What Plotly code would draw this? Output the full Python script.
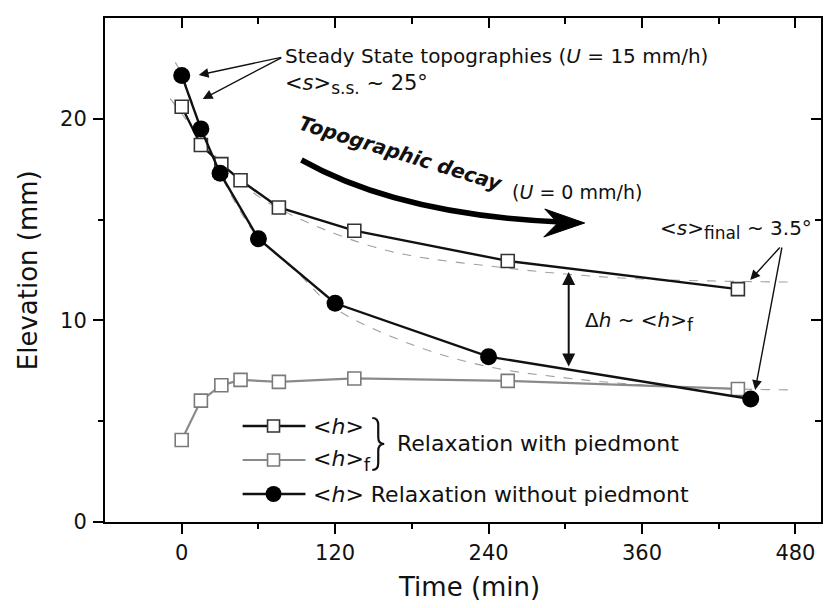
import plotly.graph_objects as go

# ---------------- data ----------------
t_nopied = [0, 15, 30, 60, 120, 240, 445]
h_nopied = [22.15, 19.5, 17.3, 14.05, 10.85, 8.2, 6.1]

t_pied = [0, 15, 31, 46, 76, 135, 255, 435]
h_pied = [20.6, 18.7, 17.75, 16.95, 15.6, 14.45, 12.95, 11.55]
hf_pied = [4.07, 6.02, 6.78, 7.05, 6.95, 7.12, 7.0, 6.6]

# dashed fit curves
t_fit_up = [-9, 0, 15, 30, 45, 60, 90, 120, 150, 180, 240, 300, 360, 420, 480]
h_fit_up = [21.0, 20.25, 19.0, 17.9, 16.95, 16.15, 15.1, 14.3, 13.65, 13.2, 12.7, 12.3, 12.05, 11.95, 11.9]
t_fit_lo = [-5, 0, 15, 30, 45, 60, 90, 120, 180, 240, 300, 360, 420, 480]
h_fit_lo = [22.8, 22.2, 19.6, 17.3, 15.5, 14.1, 12.4, 10.6, 8.8, 7.7, 7.15, 6.8, 6.62, 6.55]

x_ticks = [0, 120, 240, 360, 480]
y_ticks = [0, 10, 20]

FONT = "DejaVu Sans, Liberation Sans, sans-serif"
W, H = 829, 608
L, R, T, B = 105, 6, 18, 86
PW, PH = W - L - R, H - T - B


def px(x):
    return (x - L) / PW


def py(y):
    return (H - B - y) / PH


def sub(s, size):
    return f"<sub><span style='font-size:{size}px'>{s}</span></sub>"


fig = go.Figure()

fig.add_trace(go.Scatter(x=t_fit_up, y=h_fit_up, mode="lines", line=dict(color="#a0a0a0", width=1.1, dash="dash", shape="spline"), hoverinfo="skip"))
fig.add_trace(go.Scatter(x=t_fit_lo, y=h_fit_lo, mode="lines", line=dict(color="#a0a0a0", width=1.1, dash="dash", shape="spline"), hoverinfo="skip"))

fig.add_trace(go.Scatter(x=t_pied, y=hf_pied, mode="lines+markers",
                         line=dict(color="#8a8a8a", width=2.2),
                         marker=dict(symbol="square", size=13, color="white", line=dict(color="#7a7a7a", width=1.6))))
fig.add_trace(go.Scatter(x=t_pied, y=h_pied, mode="lines+markers",
                         line=dict(color="#111111", width=2.4),
                         marker=dict(symbol="square", size=13, color="white", line=dict(color="#333333", width=1.6))))
fig.add_trace(go.Scatter(x=t_nopied, y=h_nopied, mode="lines+markers",
                         line=dict(color="#111111", width=2.4),
                         marker=dict(symbol="circle", size=17, color="black", line=dict(color="black", width=0))))

# dummy trace for mirrored inside ticks
fig.add_trace(go.Scatter(x=[None], y=[None], xaxis="x2", yaxis="y2", showlegend=False, hoverinfo="skip"))

axis_common = dict(showgrid=False, zeroline=False, linecolor="black", linewidth=2,
                   tickfont=dict(family=FONT, size=21, color="#111"), tickcolor="black", tickwidth=2)

fig.update_layout(
    width=W, height=H, margin=dict(l=L, r=R, t=T, b=B),
    paper_bgcolor="white", plot_bgcolor="white", showlegend=False,
    xaxis=dict(range=[-60, 500], tickvals=x_ticks, ticks="outside", ticklen=10, mirror=True,
               showline=True, ticklabelstandoff=1,
               minor=dict(tickvals=[60, 180, 300, 420], ticks="outside", ticklen=5, tickcolor="black", tickwidth=2),
               **axis_common),
    yaxis=dict(range=[0, 25], tickvals=y_ticks, ticks="outside", ticklen=10, mirror=True,
               showline=True, ticklabelstandoff=2,
               minor=dict(tickvals=[5, 15], ticks="outside", ticklen=5, tickcolor="black", tickwidth=2),
               **axis_common),
    xaxis2=dict(range=[-60, 500], overlaying="x", side="top", anchor="y", tickvals=x_ticks,
                ticks="inside", ticklen=10, tickwidth=2, tickcolor="black", showticklabels=False,
                showgrid=False, zeroline=False, showline=False,
                minor=dict(tickvals=[60, 180, 300, 420], ticks="inside", ticklen=6, tickcolor="black", tickwidth=2)),
    yaxis2=dict(range=[0, 25], overlaying="y", side="right", anchor="x", tickvals=y_ticks,
                ticks="inside", ticklen=10, tickwidth=2, tickcolor="black", showticklabels=False,
                showgrid=False, zeroline=False, showline=False,
                minor=dict(tickvals=[5, 15], ticks="inside", ticklen=6, tickcolor="black", tickwidth=2)),
)

ann = []


def text(x, y, s, size=20, anchor="left", angle=0, color="#111"):
    ann.append(dict(x=px(x), y=py(y), xref="paper", yref="paper", text=s, showarrow=False,
                    xanchor=anchor, yanchor="middle", textangle=angle,
                    font=dict(family=FONT, size=size, color=color)))


def arrow(tip, tail, width=1.4, head=2, size=1.4, side="end"):
    ann.append(dict(x=px(tip[0]), y=py(tip[1]), xref="paper", yref="paper", text="",
                    showarrow=True, ax=tail[0] - tip[0], ay=tail[1] - tip[1],
                    arrowhead=head, arrowsize=size, arrowwidth=width, arrowcolor="#111",
                    arrowside=side, startarrowhead=head, startarrowsize=size))


# axis titles
text(470, 587, "Time (min)", size=26, anchor="center")
ann.append(dict(x=px(28), y=py(270), xref="paper", yref="paper", text="Elevation (mm)", showarrow=False,
                textangle=-90, xanchor="center", yanchor="middle", font=dict(family=FONT, size=26, color="#111")))

# steady state annotation
text(283, 56, "Steady State topographies (<i>U</i> = 15 mm/h)", size=20)
text(283, 85, "&lt;<i>s</i>&gt;" + sub("s.s.", 17) + " ~ 25°", size=21)
arrow((199, 75), (283, 57))
arrow((203, 99), (283, 57))

# topographic decay
text(401, 153, "<b><i>Topographic decay</i></b>", size=20, anchor="center", angle=17)
text(511, 192, "(<i>U</i> = 0 mm/h)", size=19)

# curved arrow
def P(x, y):
    return f"{px(x):.5f},{py(y):.5f}"

shapes = []
shapes.append(dict(type="path", xref="paper", yref="paper",
                   path=f"M {P(302,160)} Q {P(400,215)} {P(562,222)}",
                   line=dict(color="black", width=5.5)))
shapes.append(dict(type="path", xref="paper", yref="paper",
                   path=f"M {P(586,223)} L {P(546,209)} L {P(559,223)} L {P(545,237)} Z",
                   fillcolor="black", line=dict(color="black", width=1)))

# delta h double arrow
arrow((570, 272), (570, 368), width=2, head=2, size=1.3, side="end+start")
text(584, 321, "Δ<i>h</i> ~ &lt;<i>h</i>&gt;" + sub("f", 17), size=20)

# final slope
text(660, 230, "&lt;<i>s</i>&gt;" + sub("final", 17) + " ~ 3.5°", size=20)
arrow((752, 280), (783, 246))
arrow((757, 390), (784, 246))

# ---------- manual legend ----------
def hline(x0, x1, y, color, w=2.4):
    shapes.append(dict(type="line", xref="paper", yref="paper", x0=px(x0), x1=px(x1), y0=py(y), y1=py(y),
                       line=dict(color=color, width=w)))

hline(243, 306, 426, "#111")
shapes.append(dict(type="rect", xref="paper", yref="paper", x0=px(268), x1=px(280), y0=py(432), y1=py(420),
                   fillcolor="white", line=dict(color="#333", width=1.6)))
text(312, 426, "&lt;<i>h</i>&gt;", size=22)

hline(243, 306, 460, "#8a8a8a", 2.2)
shapes.append(dict(type="rect", xref="paper", yref="paper", x0=px(268), x1=px(280), y0=py(466), y1=py(454),
                   fillcolor="white", line=dict(color="#7a7a7a", width=1.6)))
text(312, 460, "&lt;<i>h</i>&gt;" + sub("f", 18), size=22)

# brace
shapes.append(dict(type="path", xref="paper", yref="paper",
                   path=(f"M {P(373,418)} Q {P(379,418)} {P(379,425)} L {P(379,437)} "
                         f"Q {P(379,444)} {P(385,444)} Q {P(379,444)} {P(379,451)} "
                         f"L {P(379,463)} Q {P(379,470)} {P(373,470)}"),
                   line=dict(color="#111", width=2.2)))
text(396, 443, "Relaxation with piedmont", size=22)

hline(243, 306, 494, "#111")
shapes.append(dict(type="circle", xref="paper", yref="paper", x0=px(266), x1=px(282), y0=py(502), y1=py(486),
                   fillcolor="black", line=dict(color="black", width=0)))
text(312, 494, "&lt;<i>h</i>&gt; Relaxation without piedmont", size=22)

fig.update_layout(annotations=ann, shapes=shapes)

fig.write_html("out.html")
